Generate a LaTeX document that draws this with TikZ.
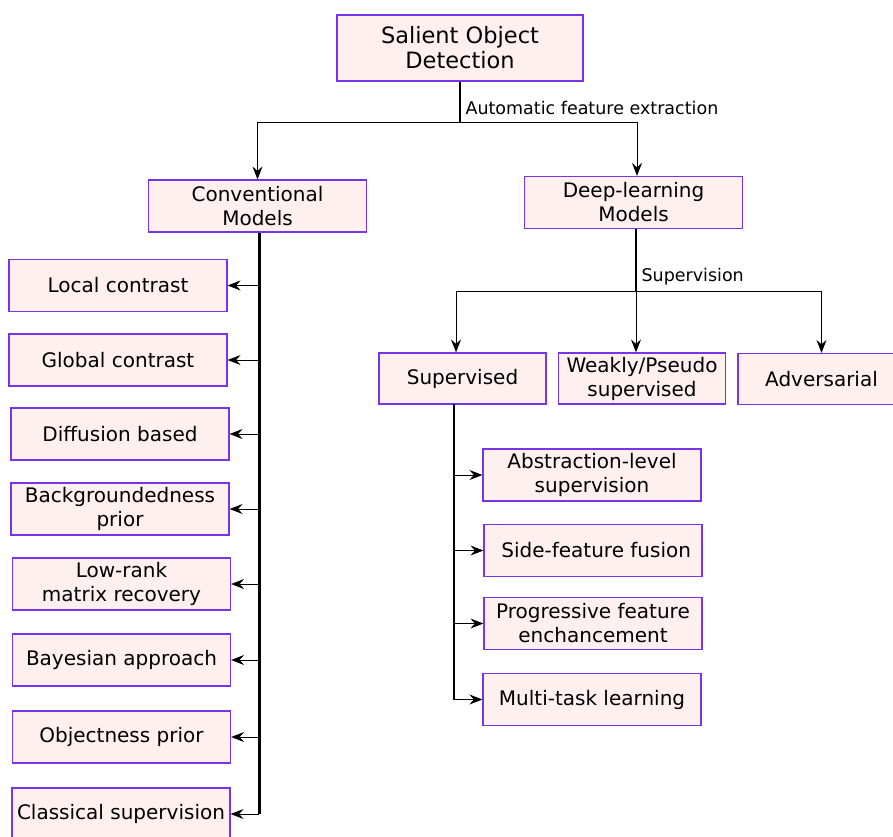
\documentclass[tikz,border=0pt]{standalone}
\usepackage{fontspec}
\setmainfont{DejaVu Sans}
\usetikzlibrary{arrows.meta}
\definecolor{boxfill}{RGB}{255,240,240}
\definecolor{boxline}{RGB}{120,52,230}

\begin{document}
\begin{tikzpicture}[x=1pt,y=-1pt,
        box/.style={draw=boxline, fill=boxfill, line width=1.2pt, align=center,
            minimum width=218pt, minimum height=52pt, inner sep=2pt,
            font=\fontsize{20}{24}\selectfont},
        smallbox/.style={box, minimum width=167pt, minimum height=51pt},
        lbl/.style={anchor=west, font=\fontsize{17.5}{21}\selectfont},
        link/.style={line width=1pt, -{Stealth[length=13pt,width=10pt,inset=4.5pt]}},
        trunk/.style={line width=1.2pt},
        spine/.style={line width=3pt}]
        \clip (0,0) rectangle (893,836);

        \node[box, minimum width=246pt, minimum height=66pt,
              font=\fontsize{22.5}{25}\selectfont] (sod) at (460,48) {Salient Object\\Detection};
        \node[box](conv) at (257.5,206) {Conventional\\Models};
        \node[box](deep) at (633.5,202.5) {Deep-learning\\Models};

        \node[box](local)   at (118,285.5) {Local contrast};
        \node[box](global)  at (118,360)   {Global contrast};
        \node[box](diff)    at (120,434)   {Diffusion based};
        \node[box](backg)   at (120,509)   {Backgroundedness\\prior};
        \node[box](lowrank) at (121.5,584) {Low-rank\\ matrix recovery};
        \node[box](bayes)   at (121.5,660) {Bayesian approach};
        \node[box](objness) at (121.5,737) {Objectness prior};
        \node[box](classic) at (121,814)   {Classical supervision};

        \node[smallbox](sup)  at (462.5,378.5) {Supervised};
        \node[smallbox](weak) at (642,378.5)   {Weakly/Pseudo\\supervised};
        \node[smallbox](adv)  at (821.5,379)   {Adversarial};

        \node[box](abstr) at (592,475)   {Abstraction-level\\supervision};
        \node[box](side)  at (593,550.5) {\ Side-feature fusion};
        \node[box](prog)  at (593,623.5) {Progressive feature\\enchancement};
        \node[box](multi) at (592,699.5) {Multi-task learning};

        % top split
        \coordinate (split) at (460,122);
        \draw[trunk] (sod.south) -- (split);
        \draw[link] (split) -| (conv);
        \draw[link] (split) -| (deep.north -| 637,0);
        \node[lbl](auto) at (462,108) {Automatic feature extraction};

        % deep-learning split
        \coordinate (dsplit) at (636,291);
        \draw[trunk] (deep.south -| dsplit) -- (dsplit);
        \draw[link] (dsplit) -| (sup.north -| 456,0);
        \draw[link] (dsplit) -- (dsplit |- weak.north);
        \draw[link] (dsplit) -| (adv);
        \node[lbl](supv) at (638,277) {Supervision};

        % conventional models
        \draw[spine] (conv.south -| 259,0) -- (classic.east -| 259,0);
        \foreach \n in {local,global,diff,backg,lowrank,bayes,objness,classic}
            \draw[link] (\n.east -| 259,0) -- (\n.east);

        % supervised models
        \coordinate (ss) at (454,404);
        \draw[line width=1.6pt] (ss) -- (ss |- multi.west);
        \foreach \n in {abstr,side,prog,multi}
            \draw[link] (ss |- \n.west) -- (\n.west);
\end{tikzpicture}
\end{document}
